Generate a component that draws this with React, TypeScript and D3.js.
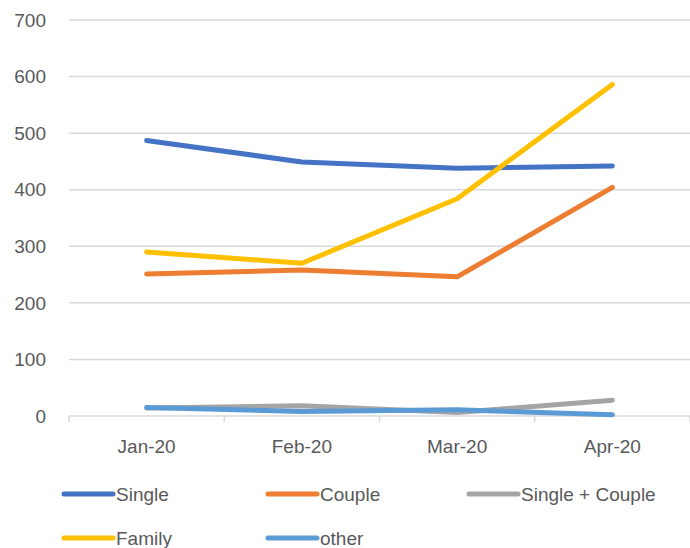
import React from "react";
import * as d3 from "d3";

const categories = ["Jan-20", "Feb-20", "Mar-20", "Apr-20"];
const yTicks = [0, 100, 200, 300, 400, 500, 600, 700];
const seriesNames = ["Single", "Couple", "Single + Couple", "Family", "other"];
const seriesColors = ["#4472C4", "#ED7D31", "#A5A5A5", "#FFC000", "#5B9BD5"];
const single = [487, 449, 438, 442];
const couple = [251, 258, 246, 404];
const singleCouple = [14, 18, 6, 28];
const family = [290, 270, 384, 586];
const other = [15, 8, 11, 2];
const seriesValues = [single, couple, singleCouple, family, other];
const drawOrder = [0, 1, 2, 3, 4];

const W = 690;
const H = 548;
const left = 69;
const right = 690;
const top = 20;
const bottom = 416;
const font = "'Liberation Sans', Arial, sans-serif";
const textColor = "#595959";
const fs = 19;

export default function App() {
  const x = d3.scaleBand<string>().domain(categories).range([left, right]);
  const y = d3.scaleLinear().domain([0, 700]).range([bottom, top]);
  const line = d3
    .line<number>()
    .x((_, i) => (x(categories[i]) as number) + x.bandwidth() / 2)
    .y((d) => y(d));

  const boundaries = [...categories.map((c) => x(c) as number), right];

  const legendItems = [
    { i: 0, lx: 62, ly: 494 },
    { i: 1, lx: 266, ly: 494 },
    { i: 2, lx: 467, ly: 494 },
    { i: 3, lx: 62, ly: 538 },
    { i: 4, lx: 266, ly: 538 },
  ];

  return (
    <svg
      width={W}
      height={H}
      style={{ position: "absolute", left: 0, top: 0, background: "#fff" }}
      fontFamily={font}
    >
      {yTicks.map((t) => (
        <g key={t}>
          {t > 0 && (
            <line x1={left} x2={right} y1={y(t)} y2={y(t)} stroke="#D9D9D9" strokeWidth={1.5} />
          )}
          <text x={46} y={y(t)} dy="0.35em" textAnchor="end" fontSize={fs} fill={textColor}>
            {t}
          </text>
        </g>
      ))}
      <line x1={left} x2={right} y1={bottom} y2={bottom} stroke="#D9D9D9" strokeWidth={1.5} />
      {boundaries.map((b, i) => (
        <line key={i} x1={b} x2={b} y1={bottom} y2={bottom + 6} stroke="#D9D9D9" strokeWidth={1.5} />
      ))}
      {categories.map((c) => (
        <text
          key={c}
          x={(x(c) as number) + x.bandwidth() / 2}
          y={446}
          dy="0.35em"
          textAnchor="middle"
          fontSize={fs}
          fill={textColor}
        >
          {c}
        </text>
      ))}
      {drawOrder.map((si) => (
        <path
          key={si}
          d={line(seriesValues[si]) as string}
          fill="none"
          stroke={seriesColors[si]}
          strokeWidth={5}
          strokeLinecap="round"
          strokeLinejoin="round"
        />
      ))}
      {legendItems.map(({ i, lx, ly }) => (
        <g key={i}>
          <line
            x1={lx + 2}
            x2={lx + 51}
            y1={ly}
            y2={ly}
            stroke={seriesColors[i]}
            strokeWidth={5}
            strokeLinecap="round"
          />
          <text x={lx + 54} y={ly} dy="0.35em" fontSize={fs} fill={textColor}>
            {seriesNames[i]}
          </text>
        </g>
      ))}
    </svg>
  );
}
